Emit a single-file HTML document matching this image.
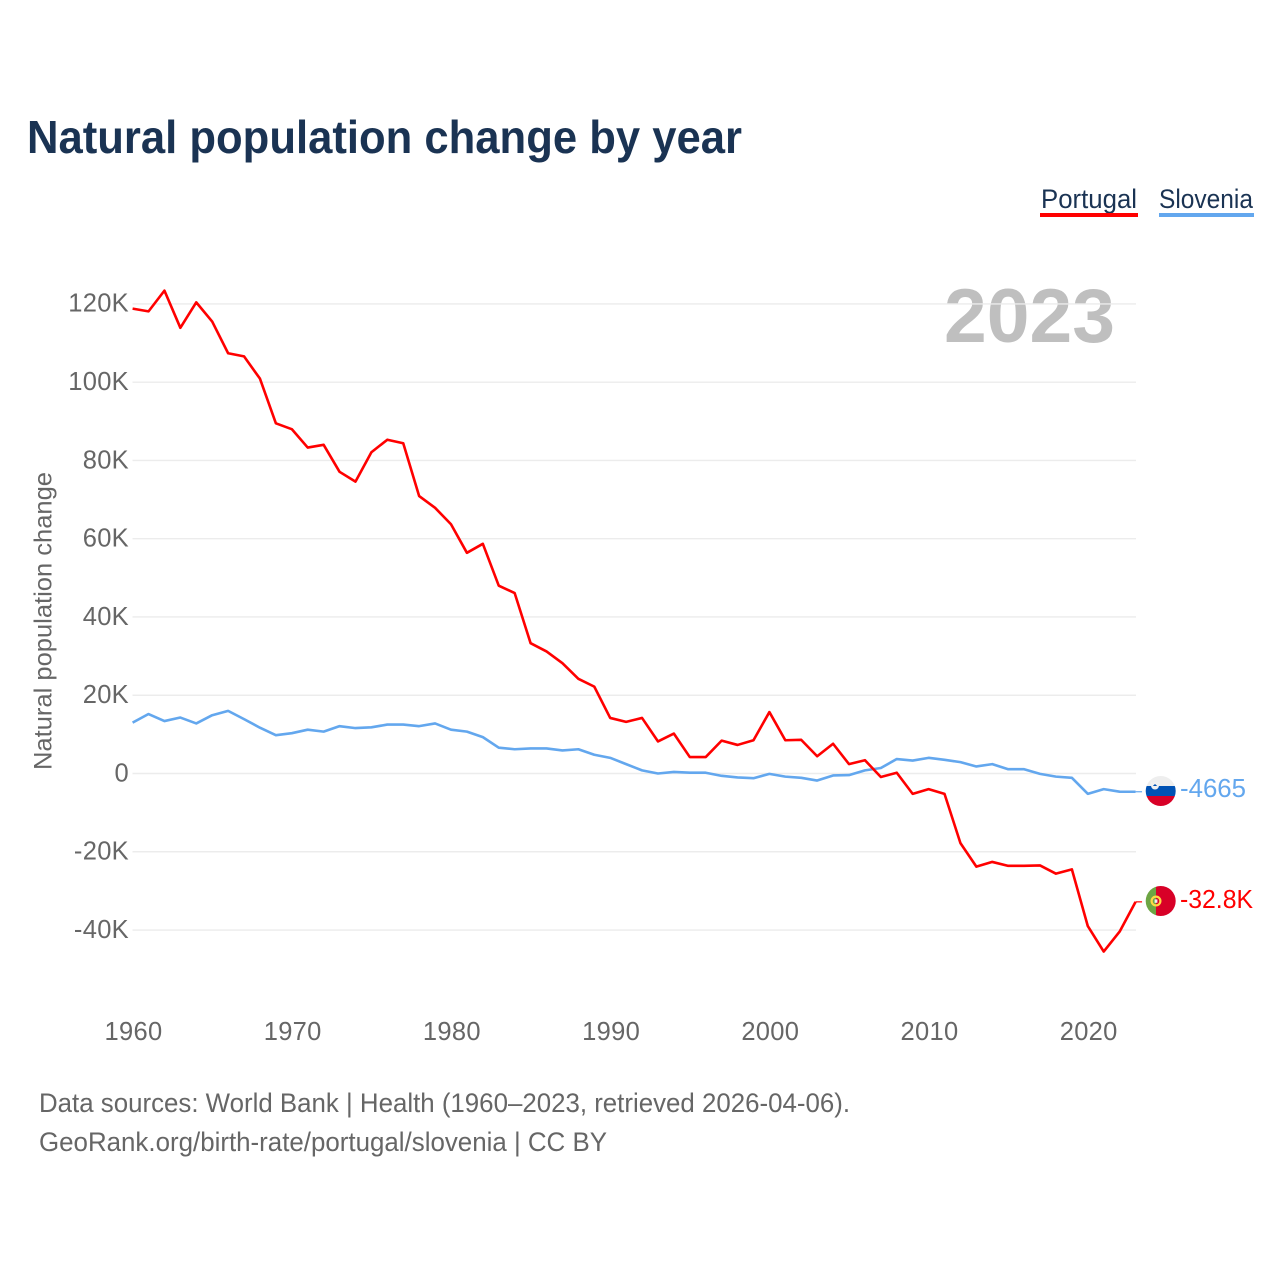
<!DOCTYPE html>
<html lang="en">
<head>
<meta charset="utf-8">
<title>Natural population change by year</title>
<style>
html,body{margin:0;padding:0;background:#fff}
svg{display:block}
text{font-family:"Liberation Sans",sans-serif}
</style>
</head>
<body>
<svg id="chart" xmlns="http://www.w3.org/2000/svg" width="1280" height="1280" viewBox="0 0 1280 1280">
<defs>
<clipPath id="si-clip"><circle cx="1160.7" cy="791" r="15"/></clipPath>
<clipPath id="pt-clip"><circle cx="1160.7" cy="901" r="15"/></clipPath>
</defs>
<rect width="1280" height="1280" fill="#fff"/>
<text x="27" y="153" font-size="46" font-weight="700" fill="#1a3353" textLength="715" lengthAdjust="spacingAndGlyphs">Natural population change by year</text>

<g>
<g>
<text x="1041" y="208" font-size="26.5" fill="#1a3353" textLength="96" lengthAdjust="spacingAndGlyphs">Portugal</text>
<rect x="1040" y="213" width="98" height="4" fill="#ff0000"/>
</g>
<g>
<text x="1159" y="208" font-size="26.5" fill="#1a3353" textLength="94" lengthAdjust="spacingAndGlyphs">Slovenia</text>
<rect x="1159" y="213" width="95" height="4" fill="#63a7ee"/>
</g>
</g>

<text x="944" y="342" font-size="76" font-weight="700" fill="#bfbfbf" textLength="171" lengthAdjust="spacingAndGlyphs">2023</text>
<text transform="translate(51.5,770) rotate(-90)" x="0" y="0" font-size="25" fill="#666" textLength="298" lengthAdjust="spacingAndGlyphs">Natural population change</text>

<g id="grid"></g>
<g id="yaxis"></g>
<g id="xaxis"></g>
<g id="series"></g>

<g clip-path="url(#si-clip)">
<rect x="1145" y="775" width="32" height="11" fill="#eeeeee"/>
<rect x="1145" y="786" width="32" height="10" fill="#0052b4"/>
<rect x="1145" y="796" width="32" height="11" fill="#d80027"/>
<path d="M1151 782 h8 v3.5 a4 4 0 0 1 -8 0 z" fill="#f0f0f0"/>
<path d="M1152.8 786 l2.2 -2 l2.2 2 z" fill="#0052b4"/>
</g>
<g clip-path="url(#pt-clip)">
<rect x="1145" y="885" width="11" height="32" fill="#6da544"/>
<rect x="1156" y="885" width="22" height="32" fill="#d80027"/>
<circle cx="1156" cy="901" r="4.4" fill="none" stroke="#ffda44" stroke-width="2.2"/>
<rect x="1154.6" y="899.4" width="2.8" height="3.4" fill="#f0f0f0"/>
</g>
<text x="1180" y="797" font-size="26" fill="#63a7ee" textLength="66" lengthAdjust="spacingAndGlyphs">-4665</text>
<text x="1180" y="908" font-size="26" fill="#ff0000" textLength="73" lengthAdjust="spacingAndGlyphs">-32.8K</text>

<g>
<text x="39" y="1112" font-size="26.5" fill="#666" textLength="811" lengthAdjust="spacingAndGlyphs">Data sources: World Bank | Health (1960–2023, retrieved 2026-04-06).</text>
<text x="39" y="1151" font-size="26.5" fill="#666" textLength="568" lengthAdjust="spacingAndGlyphs">GeoRank.org/birth-rate/portugal/slovenia | CC BY</text>
</g>
</svg>
<script>
const startYear = 1960;
const xTickYears = [1960, 1970, 1980, 1990, 2000, 2010, 2020];
const yTickValues = [120000, 100000, 80000, 60000, 40000, 20000, 0, -20000, -40000];
const yTickLabels = ["120K", "100K", "80K", "60K", "40K", "20K", "0", "-20K", "-40K"];
const portugalValues = [118800, 118100, 123400, 113900, 120400, 115500, 107400, 106600, 100900, 89500,
  88000, 83300, 84000, 77100, 74600, 82100, 85300, 84400, 70900, 67900,
  63700, 56400, 58700, 48000, 46100, 33300, 31200, 28200, 24200, 22200,
  14200, 13200, 14200, 8200, 10200, 4200, 4200, 8400, 7300, 8500,
  15700, 8500, 8600, 4400, 7600, 2400, 3400, -900, 200, -5200,
  -4000, -5200, -17800, -23800, -22600, -23600, -23600, -23500, -25600, -24500,
  -39000, -45500, -40400, -32800];
const sloveniaValues = [13000, 15200, 13400, 14300, 12800, 14900, 16000, 13900, 11700, 9800,
  10300, 11200, 10700, 12100, 11600, 11800, 12500, 12500, 12100, 12800,
  11200, 10700, 9300, 6600, 6200, 6400, 6400, 5900, 6200, 4800,
  4000, 2400, 800, 0, 400, 200, 200, -600, -1000, -1200,
  -100, -800, -1100, -1800, -500, -400, 800, 1400, 3700, 3300,
  4000, 3500, 2900, 1800, 2400, 1100, 1100, -100, -800, -1100,
  -5200, -4000, -4650, -4665];

const NS = 'http://www.w3.org/2000/svg';
function xScale(year) { return 132.6 + (year - 1960) * 15.92; }
function yScale(value) { return 773.5 - value * 0.003913; }
function linePoints(values) {
  return values.map(function (v, i) {
    return xScale(startYear + i).toFixed(2) + ',' + yScale(v).toFixed(2);
  }).join(' ');
}

const grid = document.getElementById('grid');
const yaxis = document.getElementById('yaxis');
const xaxis = document.getElementById('xaxis');
const series = document.getElementById('series');

yTickValues.forEach(function (v, i) {
  const line = document.createElementNS(NS, 'line');
  
  
  line.setAttribute('x1', 132.5);
  line.setAttribute('x2', 1136);
  line.setAttribute('y1', yScale(v));
  line.setAttribute('y2', yScale(v));
  line.setAttribute('stroke', '#ececec');
  line.setAttribute('stroke-width', 1.4);
  grid.appendChild(line);

  const label = document.createElementNS(NS, 'text');
  
  
  label.setAttribute('x', 129);
  label.setAttribute('y', yScale(v) + 7.8);
  label.setAttribute('text-anchor', 'end');
  label.setAttribute('font-size', 25.5);
  label.setAttribute('letter-spacing', 0.3);
  label.setAttribute('fill', '#666');
  label.textContent = yTickLabels[i];
  yaxis.appendChild(label);
});

xTickYears.forEach(function (year) {
  const label = document.createElementNS(NS, 'text');
  
  
  label.setAttribute('x', xScale(year) + 0.9);
  label.setAttribute('y', 1040);
  label.setAttribute('text-anchor', 'middle');
  label.setAttribute('font-size', 25.5);
  label.setAttribute('letter-spacing', 0.3);
  label.setAttribute('fill', '#666');
  label.textContent = String(year);
  xaxis.appendChild(label);
});

const slLine = document.createElementNS(NS, 'polyline');


slLine.setAttribute('points', linePoints(sloveniaValues));
slLine.setAttribute('fill', 'none');
slLine.setAttribute('stroke', '#63a7ee');
slLine.setAttribute('stroke-width', 2.6);
slLine.setAttribute('stroke-linejoin', 'round');
series.appendChild(slLine);

const ptLine = document.createElementNS(NS, 'polyline');


ptLine.setAttribute('points', linePoints(portugalValues));
ptLine.setAttribute('fill', 'none');
ptLine.setAttribute('stroke', '#ff0000');
ptLine.setAttribute('stroke-width', 2.6);
ptLine.setAttribute('stroke-linejoin', 'round');
series.appendChild(ptLine);

const lastYear = startYear + portugalValues.length - 1;

const slLead = document.createElementNS(NS, 'line');


slLead.setAttribute('x1', xScale(lastYear));
slLead.setAttribute('x2', xScale(lastYear) + 6.5);
slLead.setAttribute('y1', yScale(sloveniaValues[sloveniaValues.length - 1]));
slLead.setAttribute('y2', yScale(sloveniaValues[sloveniaValues.length - 1]));
slLead.setAttribute('stroke', '#63a7ee');
slLead.setAttribute('stroke-width', 1.2);
series.appendChild(slLead);

const ptLead = document.createElementNS(NS, 'line');


ptLead.setAttribute('x1', xScale(lastYear));
ptLead.setAttribute('x2', xScale(lastYear) + 6.5);
ptLead.setAttribute('y1', yScale(portugalValues[portugalValues.length - 1]));
ptLead.setAttribute('y2', yScale(portugalValues[portugalValues.length - 1]));
ptLead.setAttribute('stroke', '#ff0000');
ptLead.setAttribute('stroke-width', 1.2);
series.appendChild(ptLead);
</script>
</body>
</html>
